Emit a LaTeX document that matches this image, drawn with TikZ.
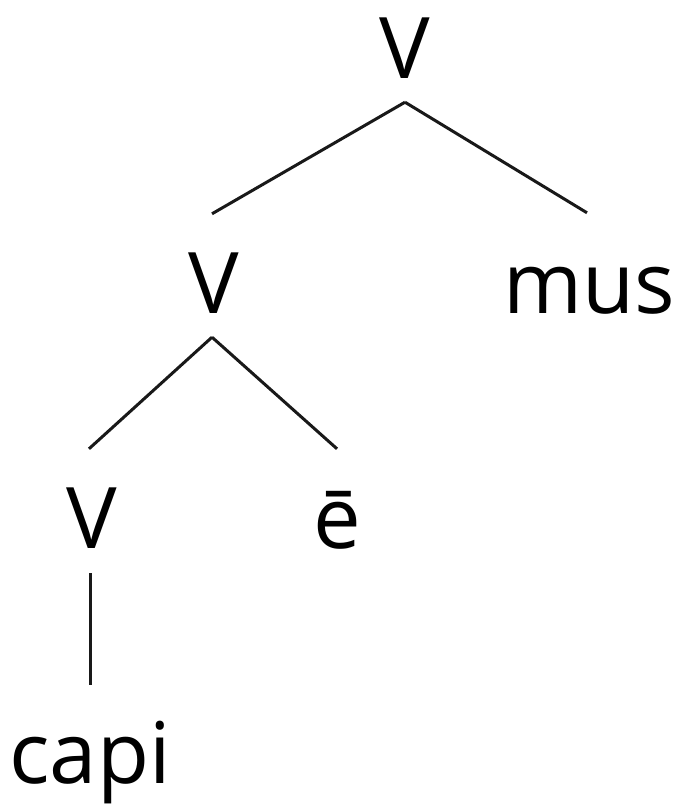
\documentclass[tikz,border=0pt]{standalone}
\usepackage{fontspec}
\setmainfont{Open Sans}
\begin{document}
\begin{tikzpicture}[x=1pt,y=1pt,
  lbl/.style={anchor=base,inner sep=0pt,text height=65pt,text depth=0pt,
              font=\fontsize{85}{100}\selectfont},
  edge/.style={line width=3pt,draw=black!90}]
\useasboundingbox (0,0) rectangle (677,-809);
\node[lbl] (v1) at (405,-78) {V};
\node[lbl] (v2) at (214,-313) {V};
\node[lbl] (mus) at (589,-313) {mus};
\node[lbl] (v3) at (92,-548) {V};
\node[lbl] (e) at (337,-548) {ē};
\node[lbl] (capi) at (90,-783) {capi};
\draw[edge] ([yshift=-24pt]v1.south) -- ([xshift=-2pt,yshift=34pt]v2.north);
\draw[edge] ([yshift=-24pt]v1.south) -- ([xshift=-2pt,yshift=35pt]mus.north);
\draw[edge] ([xshift=-2pt,yshift=-24pt]v2.south) -- ([xshift=-3pt,yshift=34pt]v3.north);
\draw[edge] ([xshift=-2pt,yshift=-24pt]v2.south) -- ([yshift=34pt]e.north);
\draw[edge] ([xshift=-2pt,yshift=-25pt]v3.south) -- ([xshift=-2pt,yshift=33pt]v3.south |- capi.north);
\end{tikzpicture}
\end{document}
